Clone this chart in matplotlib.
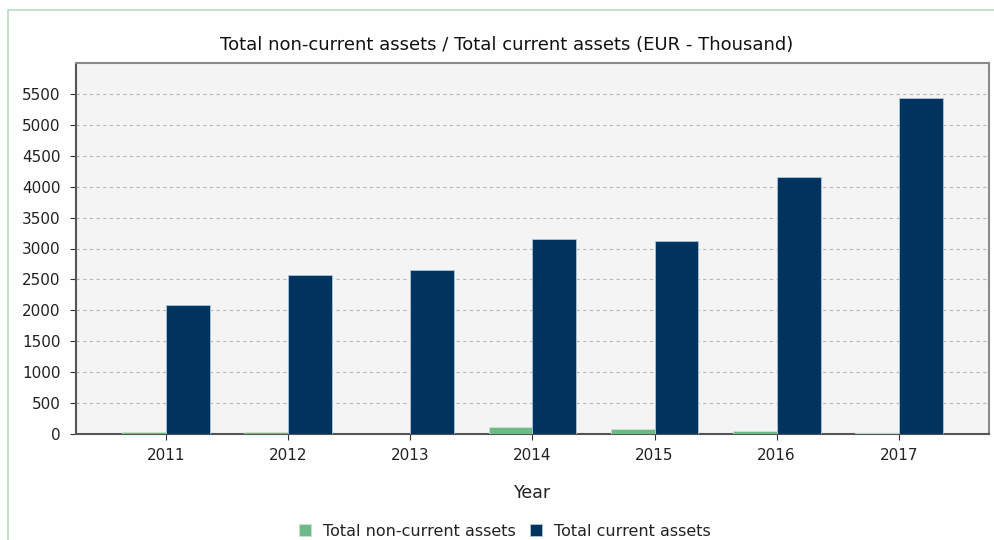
import matplotlib
matplotlib.use("Agg")
import matplotlib.pyplot as plt
from matplotlib.patches import Rectangle
import numpy as np

years = ["2011", "2012", "2013", "2014", "2015", "2016", "2017"]
non_current = [40, 30, 8, 112, 80, 42, 18]
current = [2081, 2565, 2646, 3160, 3114, 4160, 5435]
yticks = list(range(0, 6000, 500))

fig = plt.figure(figsize=(9.94, 5.40), dpi=100)
fig.patch.set_facecolor("white")

# outer light green frame
fig.add_artist(Rectangle((8 / 994, -0.1), 1.2, (540 - 10) / 540 + 0.1,
                         transform=fig.transFigure, fill=False,
                         edgecolor="#b9dcc2", linewidth=1.2))

ax = fig.add_axes([76 / 994, 1 - 434 / 540, (989 - 76) / 994, (434 - 63) / 540])
ax.set_facecolor("#f4f4f4")

x = np.arange(len(years))
w = 0.36
ax.bar(x - w / 2, non_current, width=w, color="#6dba86", edgecolor="#c9e6d2",
       linewidth=0.6, label="Total non-current assets", zorder=3)
ax.bar(x + w / 2, current, width=w, color="#00335e", edgecolor="#a9c7e0",
       linewidth=0.6, label="Total current assets", zorder=3)

ax.set_xlim(-0.74, 6.74)
ax.set_ylim(0, 6000)
ax.set_yticks(yticks)
ax.set_xticks(x)
ax.set_xticklabels(years)
ax.yaxis.grid(True, linestyle=(0, (3, 3)), color="#b8b8b8", linewidth=0.8, zorder=1)
ax.set_axisbelow(True)

for s in ax.spines.values():
    s.set_color("#8a8a8a")
    s.set_linewidth(1.5)
ax.spines["left"].set_color("#555555")
ax.spines["bottom"].set_color("#555555")

ax.tick_params(axis="both", labelsize=11, colors="#333333", length=4, width=0.8)
ax.tick_params(axis="y", pad=7)
ax.tick_params(axis="x", pad=6)
for lab in ax.get_xticklabels() + ax.get_yticklabels():
    lab.set_color("#222222")

fig.text(533 / 994, 1 - 493 / 540, "Year", ha="center", va="center",
         fontsize=12.5, color="#222222")
fig.text(507 / 994, 1 - 45 / 540,
         "Total non-current assets / Total current assets (EUR - Thousand)",
         ha="center", va="center", fontsize=13, color="#111111")

leg = fig.legend(loc="center", bbox_to_anchor=(504.5 / 994, 1 - 531 / 540), ncol=2,
                 frameon=False, fontsize=11.5, handlelength=0.8, handleheight=0.8,
                 handletextpad=0.7, columnspacing=0.9, borderpad=0.2)
for t in leg.get_texts():
    t.set_color("#222222")

fig.savefig("out.png", dpi=100)
